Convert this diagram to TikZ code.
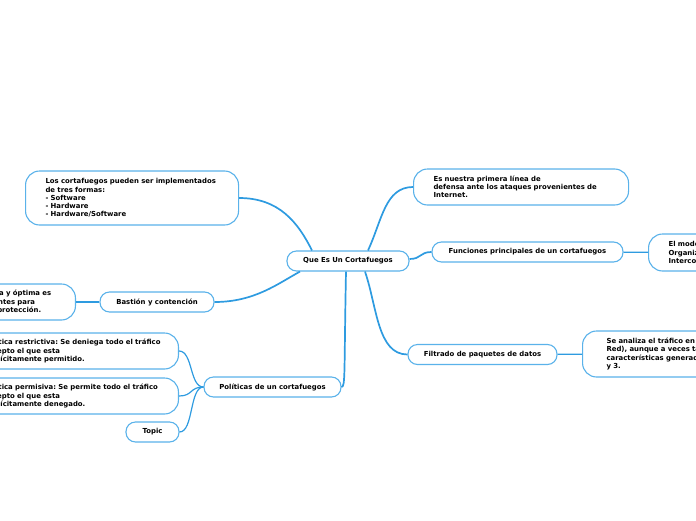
\documentclass[tikz,border=0pt]{standalone}
\usepackage{fontspec}
\newfontfamily\mapfont{DejaVu Sans}
\definecolor{mapline}{HTML}{2E9BE0}
\definecolor{mapbox}{HTML}{5AB2EA}
\frenchspacing
\tikzset{
	topic/.style={draw=mapbox, line width=1.1pt, rounded corners=9.5pt, fill=white, font=\mapfont\bfseries\fontsize{6.9}{8.2}\selectfont, minimum height=20pt, inner sep=0pt},
	note/.style={topic, rounded corners=14pt, align=left, inner xsep=20pt, inner ysep=0pt},
	branch/.style={draw=mapline, line width=1.7pt},
	twig/.style={draw=mapline, line width=1.2pt}
}
\begin{document}
\begin{tikzpicture}
			[x=1pt, y=-1pt]
			\useasboundingbox (0,0) rectangle (696,520);
			\clip (0,0) rectangle (696,520);
			\node[topic, minimum width=122pt] (que) at (348,261) {Que Es Un Cortafuegos};
			\node[note, text width=175pt, minimum height=36pt, anchor=west] (n1) at (413,187) {Es nuestra primera línea de\\defensa ante los ataques provenientes de\\Internet.};
			\node[topic, minimum width=191pt] (fun) at (527.5,252) {Funciones principales de un cortafuegos};
			\node[note, text width=190pt, minimum height=37pt, anchor=west] (osi) at (648,252.5) {El modelo OSI de la\\Organización Internacional para la\\Interconexión de Sistemas Abiertos.};
			\node[topic, minimum width=149pt] (fil) at (482.5,354.5) {Filtrado de paquetes de datos};
			\node[note, inner xsep=24pt, text width=200pt, minimum height=46pt, anchor=west] (red) at (582,354) {Se analiza el tráfico en la capa 3 (de\\Red), aunque a veces también se usan\\características generadas en las capas 2\\y 3.};
			\node[note, text width=173pt, minimum height=54pt, anchor=west] (imp) at (25,198) {Los cortafuegos pueden ser implementados\\de tres formas:\\- Software\\- Hardware\\- Hardware/Software};
			\node[topic, minimum width=114pt] (bas) at (157,302) {Bastión y contención};
			\node[note, text width=136pt, minimum height=36pt, anchor=east] (opc) at (76,302) {La opción más segura y óptima es\\contar con componentes para\\que garanticen una protección.};
			\node[topic, minimum width=137pt] (pol) at (272.5,387) {Políticas de un cortafuegos};
			\node[note, text width=180pt, inner xsep=14.5pt, minimum height=36pt, anchor=east] (res) at (179,351) {Política restrictiva: Se deniega todo el tráfico\\excepto el que esta\\explícitamente permitido.};
			\node[note, text width=180pt, inner xsep=14.5pt, minimum height=36pt, anchor=east] (per) at (179,396) {Política permisiva: Se permite todo el tráfico\\excepto el que esta\\explícitamente denegado.};
			\node[topic, minimum width=53pt] (top) at (152.5,432) {Topic};
			\draw[branch] ([xshift=-36pt]que.north) .. controls +(-14,-28) and +(40,0) .. (imp.east);
			\draw[branch] ([xshift=20pt]que.north) .. controls +(14,-30) and +(-28,0) .. (n1.west);
			\draw[branch] ([yshift=2pt]que.east) .. controls +(12,0) and +(-12,0) .. (fun.west);
			\draw[branch] ([xshift=17pt]que.south) .. controls +(12,35) and +(-30,0) .. (fil.west);
			\draw[branch] ([xshift=-2pt]que.south) .. controls +(-2,100) and +(4,0) .. (pol.east);
			\draw[branch] ([xshift=-48pt]que.south) .. controls +(-22,12) and +(40,0) .. (bas.east);
			\draw[twig] (bas) -- (opc);
			\draw[twig] (fun) -- (osi);
			\draw[twig] (fil) -- (red);
			\draw[twig] (pol.west) .. controls +(-14,0) and +(14,0) .. (res.east);
			\draw[twig] (pol.west) .. controls +(-14,0) and +(14,0) .. (per.east);
			\draw[twig] (pol.west) .. controls +(-14,0) and +(14,0) .. (top.east);
		\end{tikzpicture}
\end{document}
